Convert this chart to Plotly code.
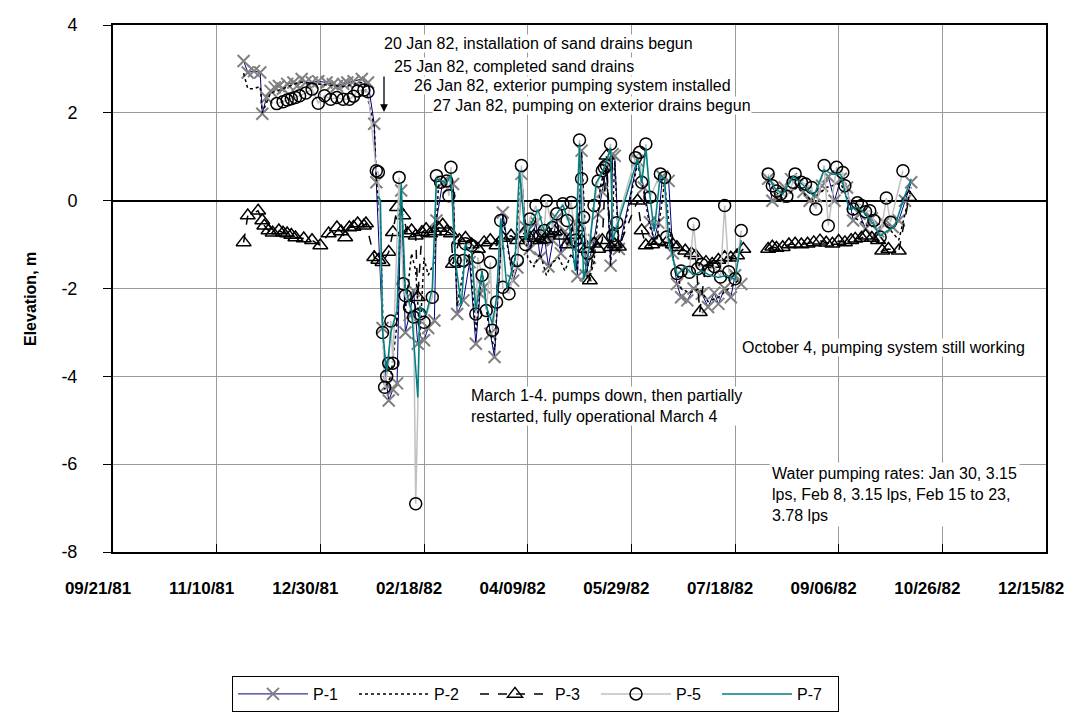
import plotly.graph_objects as go

# ---------------- data ----------------
P1_dates = ["1981-11-23","1981-11-25","1981-11-28","1981-12-01","1981-12-02","1981-12-04","1981-12-06","1981-12-08",
            "1981-12-10","1981-12-12","1981-12-14","1981-12-17","1981-12-19","1981-12-21","1981-12-23","1981-12-26",
            "1981-12-29","1982-01-02","1982-01-05","1982-01-07","1982-01-10","1982-01-12","1982-01-15","1982-01-19",
            "1982-01-22","1982-01-25","1982-01-26","1982-01-29","1982-01-31","1982-02-01","1982-02-03","1982-02-05",
            "1982-02-07","1982-02-09","1982-02-11","1982-02-13","1982-02-15","1982-02-18","1982-02-20","1982-02-23",
            "1982-02-24","1982-02-27","1982-03-02","1982-03-04","1982-03-06","1982-03-09","1982-03-12","1982-03-15",
            "1982-03-17","1982-03-19","1982-03-22","1982-03-24","1982-03-28","1982-04-02","1982-04-04","1982-04-06",
            "1982-04-08","1982-04-10","1982-04-13","1982-04-15","1982-04-17","1982-04-19","1982-04-21","1982-04-23",
            "1982-04-25","1982-04-27","1982-04-29","1982-05-01","1982-05-03","1982-05-05","1982-05-07","1982-05-09",
            "1982-05-11","1982-05-13","1982-05-15","1982-05-17","1982-05-19","1982-05-20","1982-05-21","1982-05-23",
            "1982-06-01","1982-06-04","1982-06-07","1982-06-09","1982-06-11","1982-06-13","1982-06-16","1982-06-18",
            "1982-06-20","1982-06-22","1982-06-25","1982-06-28","1982-07-02","1982-07-05","1982-07-08","1982-07-10",
            "1982-07-13","1982-07-16","1982-07-18","1982-07-21","1982-07-27","1982-08-03","1982-08-05","1982-08-08",
            "1982-08-11","1982-08-14","1982-08-17","1982-08-20","1982-08-23","1982-08-26","1982-08-29","1982-09-01",
            "1982-09-04","1982-09-07","1982-09-10","1982-09-13","1982-09-16","1982-09-19","1982-09-22","1982-09-25",
            "1982-09-28","1982-10-02","1982-10-05","1982-10-08","1982-10-11"]
P1_vals = [3.18,2.92,2.95,2.92,1.98,2.35,2.50,2.58,
           2.61,2.55,2.66,2.69,2.62,2.77,2.70,2.69,
           2.72,2.69,2.65,2.61,2.66,2.69,2.72,2.77,
           2.69,1.75,0.42,-2.90,-4.20,-4.55,-4.30,-4.16,
           0.23,-3.00,-2.60,-2.05,-3.26,-3.18,-2.90,-2.73,
           -0.45,0.42,0.30,0.38,-2.58,-2.27,-1.40,-3.26,
           -2.12,-1.97,-3.03,-3.56,-0.27,-1.82,-1.52,0.61,
           -0.60,-1.10,-0.50,-1.30,-0.80,-1.50,-0.90,-0.40,
           -1.20,-0.70,-1.00,-0.50,-1.72,1.14,-1.70,-1.30,
           -0.90,-0.30,0.20,0.75,-1.48,1.06,1.02,-1.10,
           0.91,0.30,-0.49,-0.90,-0.50,0.55,0.45,-1.20,
           -1.90,-2.20,-2.27,-2.00,-2.12,-2.42,-2.10,-2.35,
           -2.00,-2.20,-1.70,-1.90,None,0.50,0.00,0.08,
           0.30,0.49,0.35,0.20,0.00,0.10,0.34,0.55,
           0.00,0.50,0.30,-0.45,-0.30,-0.64,-0.40,-0.70,
           -0.50,-0.60,-0.45,0.00,0.42]

P2_dates = ["1981-11-23","1981-11-25","1981-11-28","1981-12-01","1981-12-02","1981-12-06","1981-12-12","1981-12-20",
            "1981-12-30","1982-01-10","1982-01-20","1982-01-25","1982-01-26","1982-01-28","1982-01-30","1982-02-02",
            "1982-02-05","1982-02-07","1982-02-09","1982-02-12","1982-02-14","1982-02-16","1982-02-18","1982-02-20",
            "1982-02-23","1982-02-25","1982-03-01","1982-03-04","1982-03-06","1982-03-09","1982-03-12","1982-03-15",
            "1982-03-18","1982-03-21","1982-03-24","1982-03-28","1982-04-02","1982-04-06","1982-04-09","1982-04-12",
            "1982-04-15","1982-04-18","1982-04-21","1982-04-24","1982-04-27","1982-04-30","1982-05-03","1982-05-05",
            "1982-05-08","1982-05-11","1982-05-14","1982-05-17","1982-05-19","1982-05-21","1982-05-23","1982-06-01",
            "1982-06-04","1982-06-07","1982-06-10","1982-06-14","1982-06-18","1982-06-22","1982-06-26","1982-07-01",
            "1982-07-05","1982-07-10","1982-07-15","1982-07-20","1982-07-27","1982-08-03","1982-08-10","1982-08-17",
            "1982-08-24","1982-08-31","1982-09-07","1982-09-14","1982-09-21","1982-09-28","1982-10-05","1982-10-11"]
P2_vals = [2.90,2.55,2.55,2.60,2.00,2.45,2.55,2.70,
           2.65,2.60,2.70,1.70,0.50,-0.50,-4.30,-4.00,
           -2.80,0.20,-2.50,-1.20,-1.60,-3.10,-1.30,-1.70,
           -1.40,0.35,0.30,0.30,-2.40,-1.60,-1.20,-3.00,
           -1.60,-2.80,-3.40,-0.40,-1.80,0.60,-1.30,-1.50,
           -1.20,-1.70,-1.40,-1.30,-1.60,-1.20,-1.60,1.10,
           -1.90,-1.40,0.30,0.90,-1.50,0.90,-1.20,0.85,
           0.20,-0.60,-1.00,0.40,-1.30,-2.00,-2.10,-2.00,
           -2.30,-2.20,-2.00,-1.80,None,0.40,0.05,0.30,
           0.00,0.30,0.40,-0.40,-0.60,-0.50,-0.90,0.30]

P3_dates = ["1981-11-23","1981-11-25","1981-11-30","1981-12-02","1981-12-03","1981-12-05","1981-12-07","1981-12-10",
            "1981-12-12","1981-12-14","1981-12-16","1981-12-18","1981-12-22","1981-12-26","1981-12-30","1982-01-03",
            "1982-01-07","1982-01-09","1982-01-11","1982-01-13","1982-01-15","1982-01-17","1982-01-20","1982-01-21",
            "1982-01-25","1982-01-27","1982-01-29","1982-02-01","1982-02-03","1982-02-05","1982-02-08","1982-02-10",
            "1982-02-12","1982-02-14","1982-02-15","1982-02-17","1982-02-19","1982-02-21","1982-02-23","1982-02-25",
            "1982-02-27","1982-03-01","1982-03-03","1982-03-04","1982-03-07","1982-03-10","1982-03-13","1982-03-16",
            "1982-03-19","1982-03-22","1982-03-25","1982-03-28","1982-04-01","1982-04-04","1982-04-07","1982-04-10",
            "1982-04-12","1982-04-15","1982-04-17","1982-04-19","1982-04-22","1982-04-25","1982-04-28","1982-05-01",
            "1982-05-03","1982-05-05","1982-05-07","1982-05-09","1982-05-11","1982-05-13","1982-05-15","1982-05-17",
            "1982-05-19","1982-05-21","1982-05-23","1982-06-01","1982-06-03","1982-06-05","1982-06-08","1982-06-11",
            "1982-06-15","1982-06-18","1982-06-20","1982-06-24","1982-06-27","1982-06-29","1982-07-01","1982-07-04",
            "1982-07-07","1982-07-10","1982-07-13","1982-07-16","1982-07-19","1982-07-22","1982-07-27","1982-08-03",
            "1982-08-05","1982-08-07","1982-08-10","1982-08-13","1982-08-16","1982-08-19","1982-08-22","1982-08-25",
            "1982-08-28","1982-08-31","1982-09-03","1982-09-06","1982-09-09","1982-09-12","1982-09-14","1982-09-17",
            "1982-09-19","1982-09-22","1982-09-25","1982-09-27","1982-09-30","1982-10-05","1982-10-10"]
P3_vals = [-0.95,-0.34,-0.23,-0.45,-0.57,-0.68,-0.73,-0.68,
           -0.73,-0.75,-0.78,-0.84,-0.86,-0.90,-1.02,-0.75,
           -0.61,-0.70,-0.84,-0.61,-0.60,-0.52,-0.57,-0.52,
           -1.29,-1.35,-1.40,-1.17,-0.72,-0.15,-0.34,-0.75,
           -0.68,-0.80,-2.20,-0.72,-0.65,-0.75,-0.70,-0.62,
           -0.55,-0.70,-0.75,-1.44,-0.90,-0.85,-1.00,-1.10,
           -0.95,-0.90,-1.02,-0.85,-0.80,-0.90,-0.75,-0.85,
           -0.80,-0.90,-0.88,-0.75,-0.70,-0.80,-1.00,-0.78,
           -0.61,-0.90,-1.10,-1.82,-0.98,-1.10,-0.90,1.02,
           -1.06,-1.00,-1.05,0.00,-0.68,-1.02,-1.00,-0.92,
           -0.95,-1.00,-1.06,-1.14,-1.20,-1.25,-2.54,-1.40,
           -1.44,-1.35,-1.29,-1.30,-1.25,-1.10,None,-1.10,
           -1.05,-1.08,-1.06,-1.00,-0.98,-1.00,-0.98,-0.95,
           -0.91,-0.96,-0.98,-0.92,-0.95,-0.90,-0.87,-0.85,
           -0.80,-0.85,-0.90,-1.14,-1.10,-1.14,0.08]

P5_dates = ["1981-12-09","1981-12-12","1981-12-14","1981-12-16","1981-12-18","1981-12-20","1981-12-23","1981-12-26",
            "1981-12-29","1982-01-01","1982-01-04","1982-01-07","1982-01-10","1982-01-13","1982-01-15","1982-01-17",
            "1982-01-20","1982-01-22","1982-01-26","1982-01-27","1982-01-29","1982-01-30","1982-01-31","1982-02-01",
            "1982-02-02","1982-02-03","1982-02-06","1982-02-08","1982-02-09","1982-02-11","1982-02-13","1982-02-14",
            "1982-02-16","1982-02-18","1982-02-22","1982-02-24","1982-02-26","1982-03-01","1982-03-02","1982-03-03",
            "1982-03-05","1982-03-09","1982-03-10","1982-03-13","1982-03-15","1982-03-16","1982-03-18","1982-03-20",
            "1982-03-22","1982-03-23","1982-03-25","1982-03-27","1982-03-28","1982-03-31","1982-04-04","1982-04-06",
            "1982-04-08","1982-04-10","1982-04-13","1982-04-15","1982-04-17","1982-04-18","1982-04-21","1982-04-23",
            "1982-04-26","1982-04-28","1982-04-30","1982-05-02","1982-05-04","1982-05-05","1982-05-06","1982-05-08",
            "1982-05-11","1982-05-13","1982-05-15","1982-05-16","1982-05-17","1982-05-19","1982-05-20","1982-05-22",
            "1982-05-31","1982-06-02","1982-06-03","1982-06-05","1982-06-07","1982-06-12","1982-06-14","1982-06-15",
            "1982-06-20","1982-06-22","1982-06-26","1982-06-28","1982-06-30","1982-07-02","1982-07-05","1982-07-08",
            "1982-07-11","1982-07-13","1982-07-15","1982-07-18","1982-07-21","1982-07-27","1982-08-03","1982-08-05",
            "1982-08-07","1982-08-09","1982-08-12","1982-08-15","1982-08-16","1982-08-19","1982-08-21","1982-08-24",
            "1982-08-26","1982-08-30","1982-09-01","1982-09-05","1982-09-08","1982-09-09","1982-09-13","1982-09-15",
            "1982-09-17","1982-09-19","1982-09-21","1982-09-23","1982-09-26","1982-09-29","1982-10-01","1982-10-07"]
P5_vals = [2.21,2.25,2.29,2.32,2.35,2.39,2.45,2.54,
           2.22,2.39,2.31,2.35,2.31,2.31,2.38,2.50,
           2.52,2.48,0.68,0.65,-3.00,-4.25,-4.00,-3.70,
           -2.74,-3.70,0.53,-1.89,-2.16,-2.42,-2.65,-6.90,
           -2.58,-2.77,-2.20,0.57,0.42,0.45,0.11,0.76,
           -1.36,-1.36,-0.98,-1.02,-2.58,-1.29,-1.70,-2.50,
           -1.40,-2.95,-2.31,-0.45,-1.97,-2.12,-1.36,0.80,
           -1.00,-0.42,-0.11,-0.80,-0.68,0.00,-0.61,-0.30,
           -0.07,-0.45,-0.04,-0.90,1.38,0.50,-0.38,-1.20,
           -0.11,0.45,0.68,0.75,0.80,1.29,-0.80,-0.50,
           0.98,1.10,0.42,1.29,0.08,0.61,0.53,-0.83,
           -1.66,-1.60,-1.63,-0.53,-1.55,-1.45,-1.59,-1.50,
           -1.74,-0.11,-1.62,-1.78,-0.68,None,0.61,0.34,
           0.22,0.15,0.10,0.42,0.61,0.42,0.38,0.30,
           -0.19,0.80,-0.57,0.76,0.64,0.34,-0.19,-0.05,
           -0.11,-0.25,-0.23,-0.45,-0.83,0.06,-0.49,0.68]

P7_dates = ["1982-01-27","1982-01-28","1982-01-29","1982-01-31","1982-02-02","1982-02-05","1982-02-07","1982-02-09",
            "1982-02-12","1982-02-15","1982-02-16","1982-02-19","1982-02-22","1982-02-24","1982-03-01","1982-03-03",
            "1982-03-05","1982-03-08","1982-03-10","1982-03-13","1982-03-15","1982-03-18","1982-03-20","1982-03-23",
            "1982-03-25","1982-03-27","1982-03-30","1982-04-03","1982-04-05","1982-04-08","1982-04-11","1982-04-14",
            "1982-04-17","1982-04-20","1982-04-23","1982-04-26","1982-04-29","1982-05-02","1982-05-04","1982-05-06",
            "1982-05-09","1982-05-12","1982-05-15","1982-05-17","1982-05-19","1982-05-20","1982-05-22","1982-06-01",
            "1982-06-03","1982-06-05","1982-06-07","1982-06-09","1982-06-12","1982-06-14","1982-06-16","1982-06-20",
            "1982-06-24","1982-06-28","1982-07-02","1982-07-06","1982-07-10","1982-07-14","1982-07-18","1982-07-21",
            "1982-07-27","1982-08-03","1982-08-06","1982-08-10","1982-08-15","1982-08-20","1982-08-25","1982-08-30",
            "1982-09-03","1982-09-07","1982-09-11","1982-09-15","1982-09-19","1982-09-23","1982-09-26","1982-09-29",
            "1982-10-03","1982-10-07","1982-10-11"]
P7_vals = [0.10,0.00,-2.95,-3.90,-3.00,-2.50,0.40,-2.00,
           -2.50,-4.48,-2.40,-2.60,-2.00,0.50,0.40,0.60,
           -1.30,-2.40,-1.00,-1.20,-2.50,-1.60,-2.40,-2.80,
           -2.20,-0.40,-2.00,-1.30,0.70,-0.90,-0.50,-0.20,
           -0.70,-0.50,-0.30,-0.10,-0.50,-1.60,1.30,-1.80,
           -1.00,0.40,0.65,0.90,1.20,-0.90,-0.60,0.95,
           0.40,1.20,0.10,-0.70,0.60,0.50,-0.90,-1.70,
           -1.50,-1.70,-1.60,-1.70,-1.75,-1.70,-1.80,-0.90,
           None,0.55,0.30,0.15,0.55,0.35,0.10,0.70,
           0.60,0.60,-0.20,-0.15,-0.30,-0.55,-0.80,-0.70,
           -0.60,0.00,0.50]

X_RANGE = ["1981-09-21", "1982-12-15"]
X_TICK0 = "1981-09-21"
X_TICK_DAYS = 50
Y_RANGE = [-8, 4]
Y_TICKS = [4, 2, 0, -2, -4, -6, -8]
Y_TICKLABELS = ["4", "2", "0", "-2", "-4", "-6", "-8"]

NOTES_TOP = ["20 Jan 82, installation of sand drains begun",
             "25 Jan 82, completed sand drains",
             "26 Jan 82, exterior pumping system installed",
             "27 Jan 82, pumping on exterior drains begun"]
NOTE_MARCH = "March 1-4. pumps down, then partially<br>restarted, fully operational March 4"
NOTE_OCT = "October 4, pumping system still working"
NOTE_RATES = "Water pumping rates: Jan 30, 3.15<br>lps, Feb 8, 3.15 lps, Feb 15 to 23,<br>3.78 lps"

# ---------------- figure ----------------
FONT = "Liberation Sans, Arial, sans-serif"
OFF = 8                      # page body margin of the browser
W, H = 1074 - OFF, 717 - OFF
L, R, T, B = 113 - OFF, 28, 25 - OFF, 165
PW, PH = W - L - R, H - T - B

def px(x):
    # screen pixel -> paper fraction
    return (x - OFF - L) / PW

def py(y):
    return (OFF + T + PH - y) / PH

fig = go.Figure()
fig.add_trace(go.Scatter(x=P1_dates, y=P1_vals, name="P-1", mode="lines+markers",
                         line=dict(color="#000080", width=1),
                         marker=dict(symbol="x-thin-open", size=12, color="#808080",
                                     line=dict(color="#808080", width=2))))
fig.add_trace(go.Scatter(x=P2_dates, y=P2_vals, name="P-2", mode="lines",
                         line=dict(color="black", width=1.5, dash="dot")))
fig.add_trace(go.Scatter(x=P3_dates, y=P3_vals, name="P-3", mode="lines+markers",
                         line=dict(color="black", width=1.5, dash="dash"),
                         marker=dict(symbol="triangle-up-open", size=13, color="black",
                                     line=dict(color="black", width=1.5))))
fig.add_trace(go.Scatter(x=P5_dates, y=P5_vals, name="P-5", mode="lines+markers",
                         line=dict(color="#c0c0c0", width=1.5),
                         marker=dict(symbol="circle-open", size=12, color="black",
                                     line=dict(color="black", width=1.5))))
fig.add_trace(go.Scatter(x=P7_dates, y=P7_vals, name="P-7", mode="lines",
                         line=dict(color="#008080", width=1.5)))

annots = []
top_pos = [(383, 44), (393, 66.7), (412.7, 86), (432, 105)]
for txt, (ax_, ay_) in zip(NOTES_TOP, top_pos):
    annots.append(dict(xref="paper", yref="paper", x=px(ax_), y=py(ay_), text=txt,
                       showarrow=False, xanchor="left", yanchor="middle",
                       bgcolor="white", borderpad=0,
                       font=dict(family=FONT, size=16, color="black")))
annots.append(dict(xref="paper", yref="paper", x=px(384), y=py(112), text="",
                   showarrow=True, ax=0, ay=-37, arrowhead=2, arrowsize=1.2,
                   arrowwidth=1.3, arrowcolor="black"))
annots.append(dict(xref="paper", yref="paper", x=px(470), y=py(406), text=NOTE_MARCH,
                   showarrow=False, xanchor="left", yanchor="middle", align="left",
                   bgcolor="white", borderpad=0,
                   font=dict(family=FONT, size=16, color="black")))
annots.append(dict(xref="paper", yref="paper", x=px(741), y=py(347), text=NOTE_OCT,
                   showarrow=False, xanchor="left", yanchor="middle", align="left",
                   bgcolor="white", borderpad=0,
                   font=dict(family=FONT, size=16, color="black")))
annots.append(dict(xref="paper", yref="paper", x=px(769), y=py(494), text=NOTE_RATES,
                   showarrow=False, xanchor="left", yanchor="middle", align="left",
                   bgcolor="white", borderpad=2,
                   font=dict(family=FONT, size=16, color="black")))
annots.append(dict(xref="paper", yref="paper", x=px(30), y=py(299), text="<b>Elevation, m</b>",
                   textangle=-90, showarrow=False, xanchor="center", yanchor="middle",
                   font=dict(family=FONT, size=16, color="black")))

fig.update_layout(
    template="none",
    width=W, height=H,
    margin=dict(l=L, r=R, t=T, b=B, autoexpand=False),
    paper_bgcolor="white", plot_bgcolor="white",
    font=dict(family=FONT, size=16, color="black"),
    showlegend=True,
    legend=dict(orientation="h", x=px(232), y=py(676), xanchor="left", yanchor="top",
                bgcolor="white", bordercolor="black", borderwidth=1,
                itemwidth=70, entrywidth=36, entrywidthmode="pixels",
                font=dict(family=FONT, size=16, color="black"),
                traceorder="normal"),
    annotations=annots,
)
fig.update_xaxes(type="date", range=X_RANGE, tick0=X_TICK0, dtick=X_TICK_DAYS * 86400000,
                 tickformat="%m/%d/%y", showgrid=True, gridcolor="#9a9a9a", gridwidth=1,
                 showline=True, linecolor="black", linewidth=2, mirror=True,
                 ticks="inside", ticklen=8, tickcolor="black", tickwidth=1,
                 ticklabelstandoff=20, ticklabelshift=-15, automargin=False,
                 tickfont=dict(family=FONT, size=17, color="black", weight="bold"),
                 zeroline=False)
fig.update_yaxes(range=Y_RANGE, tickmode="array", tickvals=Y_TICKS, ticktext=Y_TICKLABELS,
                 showgrid=True, gridcolor="#9a9a9a", gridwidth=1,
                 showline=True, linecolor="black", linewidth=2, mirror=True,
                 ticks="outside", ticklen=8, tickcolor="black", tickwidth=1,
                 ticklabelstandoff=22, automargin=False,
                 tickfont=dict(family=FONT, size=18, color="black"),
                 zeroline=True, zerolinecolor="black", zerolinewidth=2)

fig.write_html("out.html", config={"displayModeBar": False})
